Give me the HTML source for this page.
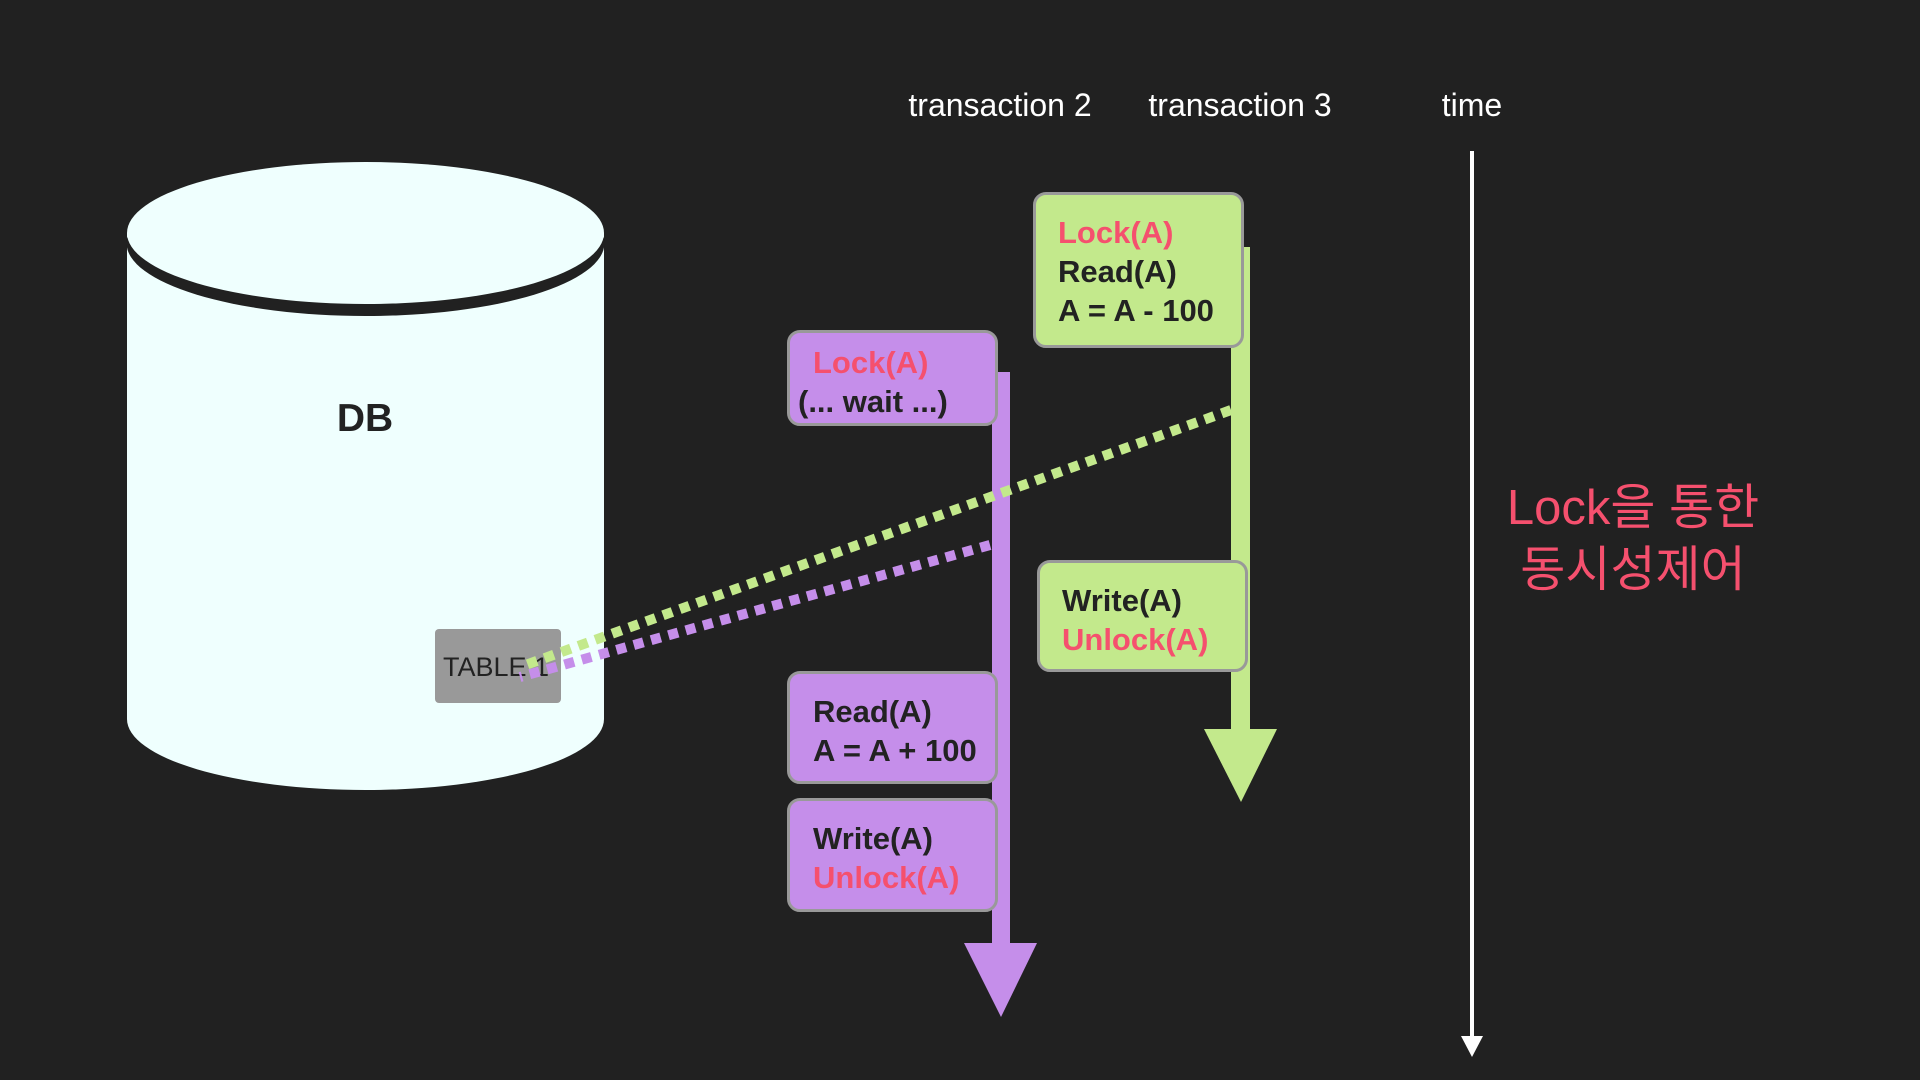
<!DOCTYPE html>
<html><head><meta charset="utf-8"><style>
body{margin:0;background:#212121;width:1920px;height:1080px;overflow:hidden;position:relative;font-family:"Liberation Sans","Noto Sans CJK KR",sans-serif}
.t{position:absolute;color:#fff;font-size:32px;transform:translateX(-50%);white-space:nowrap}
.box{position:absolute;border:3px solid #999;border-radius:13px;box-sizing:border-box;font-size:31px;line-height:39px;color:#222;font-weight:bold;white-space:nowrap}
.p{background:#c58eea}.g{background:#c3e98c}
.r{color:#f5506e}
</style></head><body>
<svg width="1920" height="1080" style="position:absolute;left:0;top:0">
<rect x="127" y="233" width="477" height="486" fill="#effffe"/>
<ellipse cx="365.5" cy="719" rx="238.5" ry="71" fill="#effffe"/>
<ellipse cx="365.5" cy="243" rx="239" ry="73" fill="#212121"/>
<ellipse cx="365.5" cy="233" rx="238.5" ry="71" fill="#effffe"/>
<rect x="435" y="629" width="126" height="74" rx="4" fill="#999"/>
<text x="443" y="676" font-family="Liberation Sans" font-size="27" fill="#222">TABLE 1</text>
<rect x="992" y="372" width="18" height="572" fill="#c58eea"/>
<polygon points="964,943 1037,943 1001,1017" fill="#c58eea"/>
<rect x="1231" y="247" width="19" height="483" fill="#c3e98c"/>
<polygon points="1204,729 1277,729 1241,802" fill="#c3e98c"/>
<line x1="1472" y1="151" x2="1472" y2="1040" stroke="#fff" stroke-width="4"/>
<polygon points="1461,1036 1483,1036 1472,1057" fill="#fff"/>
<line x1="1231" y1="410" x2="520" y2="667" stroke="#c3e98c" stroke-width="10" stroke-dasharray="10,8"/>
<line x1="990" y1="545" x2="520" y2="677" stroke="#c58eea" stroke-width="10" stroke-dasharray="10,8"/>
</svg>
<div style="position:absolute;left:365px;top:397px;transform:translateX(-50%);font-size:39px;font-weight:bold;color:#222">DB</div>
<div class="t" style="left:1000px;top:87px">transaction 2</div>
<div class="t" style="left:1240px;top:87px">transaction 3</div>
<div class="t" style="left:1472px;top:87px">time</div>
<div class="t r" style="left:1633px;top:477px;font-size:49px;line-height:62px;text-align:center">Lock을 통한<br>동시성제어</div>
<div class="box p" style="left:787px;top:330px;width:211px;height:96px;padding:10px 0 0 23px"><span class="r">Lock(A)</span><br><span style="margin-left:-15px">(... wait ...)</span></div>
<div class="box p" style="left:787px;top:671px;width:211px;height:113px;padding:18px 0 0 23px">Read(A)<br>A = A + 100</div>
<div class="box p" style="left:787px;top:798px;width:211px;height:114px;padding:18px 0 0 23px">Write(A)<br><span class="r">Unlock(A)</span></div>
<div class="box g" style="left:1033px;top:192px;width:211px;height:156px;padding:18px 0 0 22px"><span class="r">Lock(A)</span><br>Read(A)<br>A = A - 100</div>
<div class="box g" style="left:1037px;top:560px;width:211px;height:112px;padding:18px 0 0 22px">Write(A)<br><span class="r">Unlock(A)</span></div>
</body></html>
